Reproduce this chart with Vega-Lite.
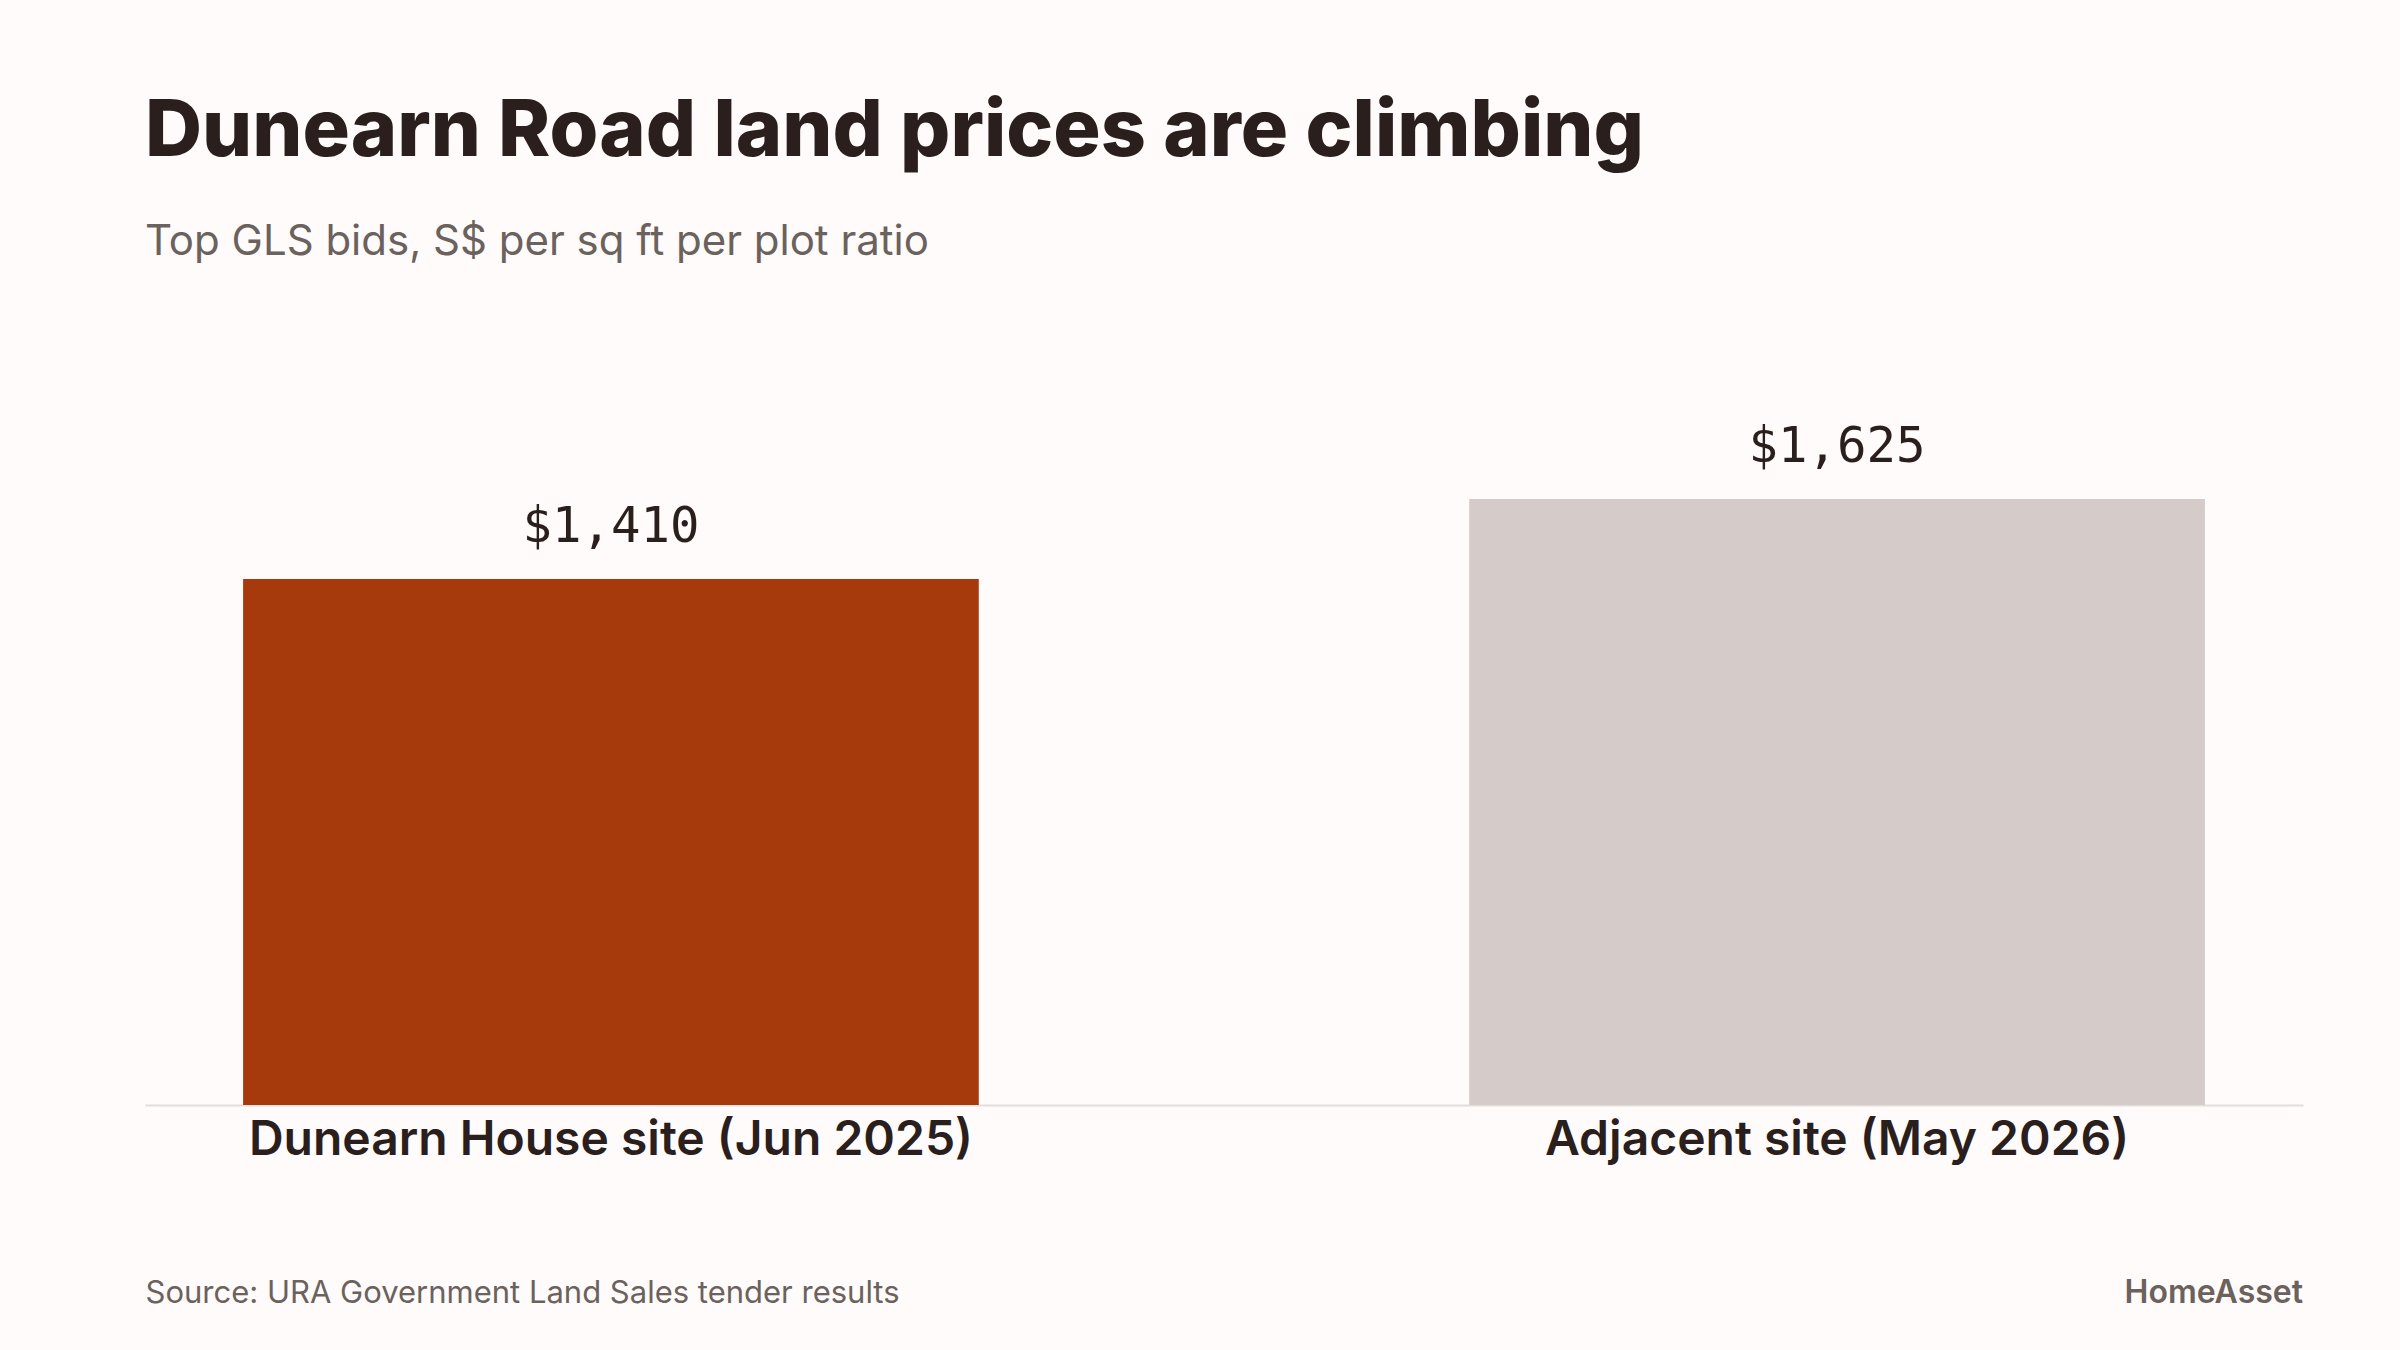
{
  "$schema": "https://vega.github.io/schema/vega-lite/v6.json",
  "width": 2158,
  "height": 746,
  "autosize": {"type": "none"},
  "padding": {"left": 145, "top": 359, "right": 97, "bottom": 245},
  "background": "#fffbfa",
  "title": {
    "text": "Dunearn Road land prices are climbing",
    "subtitle": "Top GLS bids, S$ per sq ft per plot ratio",
    "anchor": "start",
    "frame": "group",
    "font": "Inter",
    "fontSize": 79,
    "fontWeight": 800,
    "color": "#2a1f1c",
    "subtitleFont": "Inter",
    "subtitleFontSize": 42,
    "subtitleFontWeight": 400,
    "subtitleColor": "#6b625e",
    "subtitlePadding": 49,
    "offset": 95
  },
  "config": {
    "view": {"stroke": null},
    "axis": {"grid": false}
  },
  "data": {
    "values": [
      {"site": "Dunearn House site (Jun 2025)", "value": 1410, "label": "$1,410"},
      {"site": "Adjacent site (May 2026)", "value": 1625, "label": "$1,625"}
    ]
  },
  "encoding": {
    "x": {
      "field": "site",
      "type": "nominal",
      "sort": null,
      "scale": {"paddingInner": 0.4, "paddingOuter": 0.08},
      "axis": {
        "title": "Source: URA Government Land Sales tender results",
        "titleAnchor": "start",
        "titleAlign": "left",
        "titleFont": "Inter",
        "titleFontSize": 31,
        "titleFontWeight": 400,
        "titleColor": "#6b625e",
        "titlePadding": 114,
        "labelFont": "Inter",
        "labelFontSize": 48,
        "labelFontWeight": 600,
        "labelColor": "#2a1f1c",
        "labelAngle": 0,
        "labelPadding": 11,
        "labelLimit": 1200,
        "ticks": false,
        "domainColor": "#e4dedb",
        "domainWidth": 2
      }
    },
    "y": {
      "field": "value",
      "type": "quantitative",
      "scale": {"domain": [0, 2000], "nice": false},
      "axis": null
    }
  },
  "layer": [
    {
      "mark": {"type": "bar"},
      "encoding": {
        "color": {
          "field": "site",
          "type": "nominal",
          "scale": {
            "domain": ["Dunearn House site (Jun 2025)", "Adjacent site (May 2026)"],
            "range": ["#a63a0d", "#d5ccc9"]
          },
          "legend": null
        }
      }
    },
    {
      "mark": {
        "type": "text",
        "font": "DejaVu Sans Mono",
        "fontSize": 49,
        "color": "#2a1f1c",
        "baseline": "alphabetic",
        "dy": -37
      },
      "encoding": {"text": {"field": "label"}}
    },
    {
      "data": {"values": [{"brand": "HomeAsset"}]},
      "mark": {
        "type": "text",
        "font": "Inter",
        "fontSize": 32,
        "fontWeight": 600,
        "color": "#6b625e",
        "align": "right",
        "baseline": "alphabetic",
        "dy": 198
      },
      "encoding": {
        "x": {"value": "width"},
        "y": {"value": "height"},
        "text": {"field": "brand"}
      }
    }
  ]
}
